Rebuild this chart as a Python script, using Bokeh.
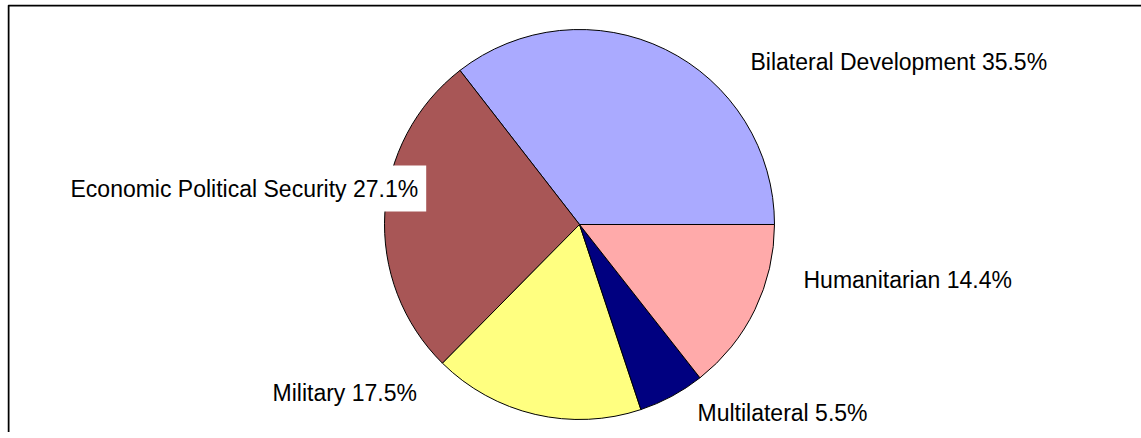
import math
from bokeh.plotting import figure
from bokeh.models import Label, ColumnDataSource, Range1d
from bokeh.embed import file_html
from bokeh.resources import INLINE

# ---- data ----
categories = ["Bilateral Development", "Economic Political Security", "Military",
              "Multilateral", "Humanitarian"]
percent = [35.5, 27.1, 17.5, 5.5, 14.4]
colors = ["#AAAAFF", "#A85656", "#FFFF80", "#000080", "#FFAAAA"]

# ---- layout (page pixel coordinates) ----
ORIGIN_X, ORIGIN_Y = 7, 4
W, H = 1141 - ORIGIN_X + 12, 438 - ORIGIN_Y - 6
center_page = (579, 224)
radius = 195
label_pos_page = [(750, 61), (62, 188), (272, 392), (697, 412), (803, 279)]


def to_data(px, py):
    return px - ORIGIN_X, H - (py - ORIGIN_Y)


p = figure(width=W, height=H, output_backend="svg", toolbar_location=None,
           x_range=Range1d(0, W), y_range=Range1d(0, H), min_border=0,
           margin=(ORIGIN_Y, 0, 0, ORIGIN_X))
p.xaxis.visible = False
p.yaxis.visible = False
p.grid.visible = False
p.outline_line_color = None
p.background_fill_color = "white"
p.border_fill_color = "white"

total = sum(percent)
starts, ends = [], []
acc = 0.0
for v in percent:
    starts.append(2 * math.pi * acc / total)
    acc += v
    ends.append(2 * math.pi * acc / total)

cx, cy = to_data(*center_page)
src = ColumnDataSource(dict(start=starts, end=ends, color=colors, name=categories))
p.wedge(x=cx, y=cy, radius=radius, start_angle="start", end_angle="end",
        direction="anticlock", fill_color="color", line_color="black",
        line_width=1, source=src)

for name, v, (px, py) in zip(categories, percent, label_pos_page):
    x, y = to_data(px, py)
    kw = {}
    if name == "Economic Political Security":
        kw = dict(background_fill_color="white", padding=(8, 10))
    p.add_layout(Label(x=x, y=y, text=f"{name} {v}%", text_font="Liberation Sans",
                       text_font_size="23px", text_color="black",
                       text_baseline="middle", text_align="left", **kw))

# frame lines (left and top) of the chart area
p.line(x=[1, 1, W + 20], y=[-20, H - 1, H - 1], line_color="black", line_width=2)

open("out.html", "w").write(file_html(p, INLINE))
